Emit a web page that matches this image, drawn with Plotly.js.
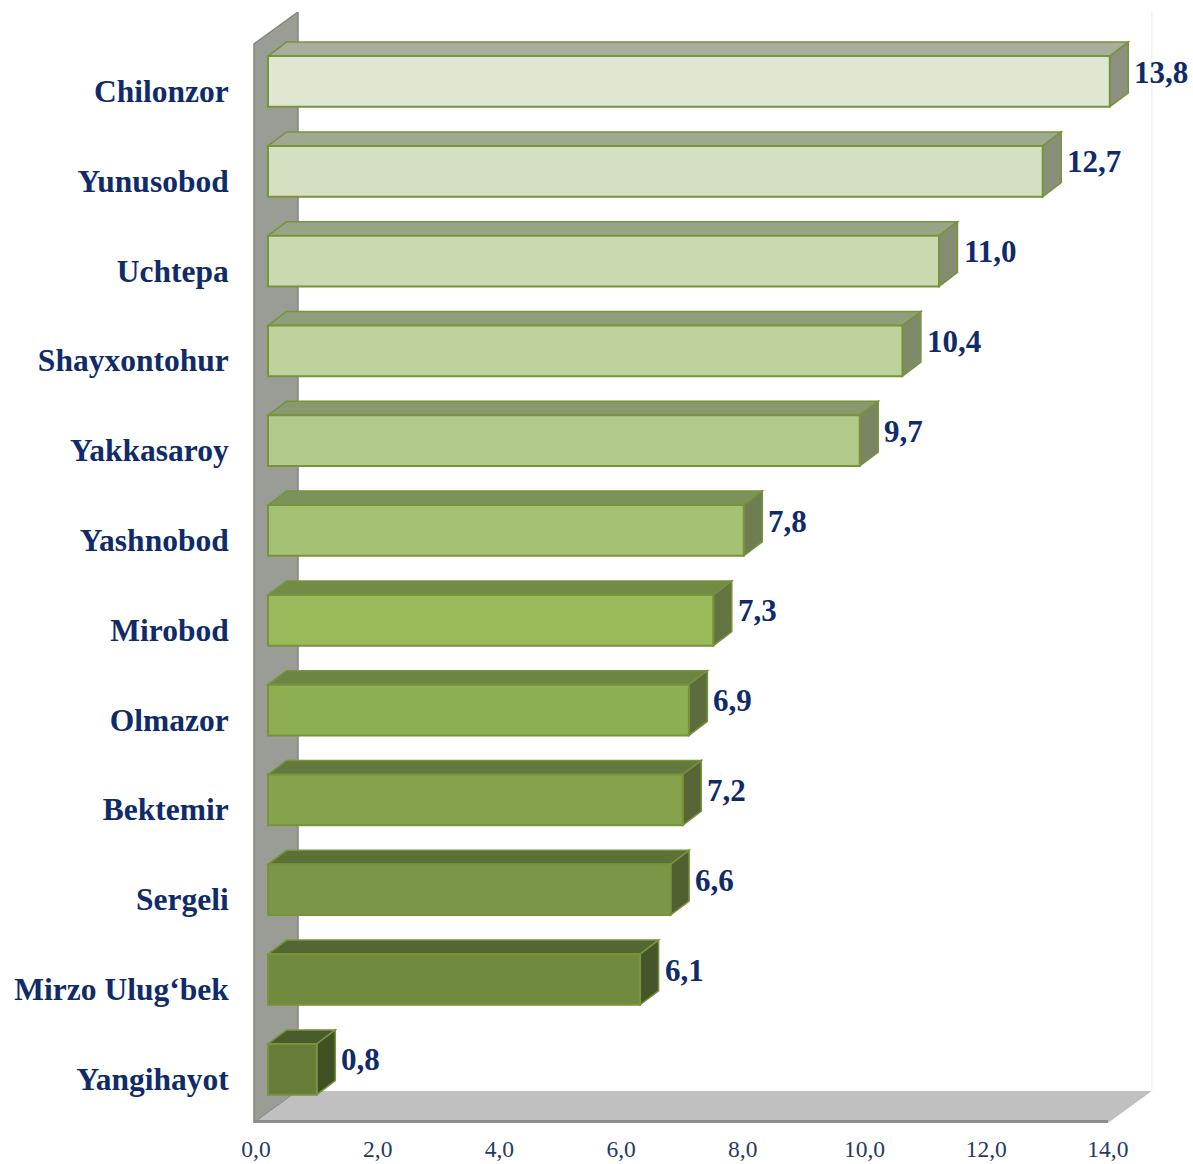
<!DOCTYPE html>
<html>
<head>
<meta charset="utf-8">
<script src="https://cdn.plot.ly/plotly-3.0.1.min.js"></script>
<style>
  html, body { margin: 0; padding: 0; background: #ffffff; }
  #chart { width: 1193px; height: 1164px; }
</style>
</head>
<body>
<div id="chart"></div>
<script>
// ---- data ----
const categories = ["Chilonzor", "Yunusobod", "Uchtepa", "Shayxontohur", "Yakkasaroy", "Yashnobod",
                    "Mirobod", "Olmazor", "Bektemir", "Sergeli", "Mirzo Ulug‘bek", "Yangihayot"];
// bar lengths as drawn in the picture (Bektemir's bar is drawn at ~6.8 although labelled 7,2)
const values = [13.8, 12.7, 11.0, 10.4, 9.7, 7.8, 7.3, 6.9, 6.8, 6.6, 6.1, 0.8];
const valueLabels = ["13,8", "12,7", "11,0", "10,4", "9,7", "7,8", "7,3", "6,9", "7,2", "6,6", "6,1", "0,8"];
const xTickValues = [0, 2, 4, 6, 8, 10, 12, 14];
const xTickLabels = ["0,0", "2,0", "4,0", "6,0", "8,0", "10,0", "12,0", "14,0"];

// ---- styles ----
const frontColors = ["#dfe7d3", "#d4e0c0", "#cad9b0", "#bed39c", "#b2cb8b", "#a4c174",
                     "#99b95a", "#8eae52", "#86a24c", "#7b9646", "#708a3f", "#667d3a"];
const topColors   = ["#a7ae9b", "#9fa890", "#98a486", "#8f9f79", "#889a6d", "#7b935a",
                     "#728c45", "#6d8543", "#64793d", "#5c7038", "#536733", "#4a5c2c"];
const sideColors  = ["#8d917f", "#89907a", "#848d72", "#7f8a69", "#7a8562", "#6e7d52",
                     "#627440", "#5d6c3c", "#576537", "#4f6130", "#46562a", "#3f5022"];
const outline = "#77933c";
const navy = "#0f2b69";
const serif = "Liberation Serif, Times New Roman, serif";

// ---- geometry (pixels) ----
const W = 1193, H = 1164;
const plotL = 250, plotR = W, plotT = 12, plotB = 1123;
const bar0px = 268, barPxPerUnit = 61;      // bar plane
const tick0px = 256, tickPxPerUnit = 60.85; // floor front plane
const catPx = 89.8, cat0px = 91;
const barW = 0.565, barShift = -0.106;       // in category units
const barDx = 18.5, barDy = 14;              // bar depth in px
const depthDx = 44, depthDy = 32;            // wall/floor depth in px

const xRange = [(plotL - bar0px) / barPxPerUnit, (plotR - bar0px) / barPxPerUnit];
const x2Range = [(plotL - tick0px) / tickPxPerUnit, (plotR - tick0px) / tickPxPerUnit];
const yTopVal = -(cat0px - plotT) / catPx;
const yBotVal = (categories.length - 1) + (plotB - (cat0px + catPx * (categories.length - 1))) / catPx;

const idx = categories.map((c, i) => i);
const offset = barShift - barW / 2;

const shapes = [];
// wall and floor (x2 = floor front plane)
const dxU2 = depthDx / tickPxPerUnit, dyU = depthDy / catPx;
const wallX = -2 / tickPxPerUnit;
const floorEnd = xTickValues[xTickValues.length - 1];
shapes.push({
  type: "path", xref: "x2", yref: "y", layer: "below",
  path: `M ${wallX},${yBotVal} L ${wallX},${yTopVal + dyU} L ${wallX + dxU2},${yTopVal} L ${wallX + dxU2},${yBotVal - dyU} Z`,
  fillcolor: "#9a9c96", line: { color: "#85877f", width: 1.5 }
});
shapes.push({
  type: "line", xref: "x2", yref: "y", layer: "below",
  x0: floorEnd + dxU2, x1: floorEnd + dxU2, y0: yTopVal - 1, y1: yBotVal - dyU,
  line: { color: "#ececec", width: 1 }
});
shapes.push({
  type: "path", xref: "x2", yref: "y", layer: "below",
  path: `M ${wallX},${yBotVal} L ${floorEnd},${yBotVal} L ${floorEnd + dxU2},${yBotVal - dyU} L ${wallX + dxU2},${yBotVal - dyU} Z`,
  fillcolor: "#c0c0c0", line: { width: 0 }
});
shapes.push({
  type: "line", xref: "x2", yref: "y", layer: "below",
  x0: wallX, x1: floorEnd, y0: yBotVal - 1.5 / catPx, y1: yBotVal - 1.5 / catPx,
  line: { color: "#8c8c8c", width: 3 }
});

// 3D faces of bars
const bdx = barDx / barPxPerUnit, bdy = barDy / catPx;
values.forEach((v, i) => {
  const yT = i + offset, yB = yT + barW;
  shapes.push({
    type: "path", xref: "x", yref: "y", layer: "below",
    path: `M 0,${yT} L ${bdx},${yT - bdy} L ${v + bdx},${yT - bdy} L ${v},${yT} Z`,
    fillcolor: topColors[i], line: { color: outline, width: 1.5 }
  });
  shapes.push({
    type: "path", xref: "x", yref: "y", layer: "below",
    path: `M ${v},${yT} L ${v + bdx},${yT - bdy} L ${v + bdx},${yB - bdy} L ${v},${yB} Z`,
    fillcolor: sideColors[i], line: { color: outline, width: 1.5 }
  });
});

const annotations = values.map((v, i) => ({
  x: v, y: i, xref: "x", yref: "y",
  text: valueLabels[i], showarrow: false,
  xanchor: "left", yanchor: "middle",
  xshift: barDx + 4, yshift: 19,
  font: { family: serif, size: 31, color: navy, weight: "bold" }
}));

const traces = [
  {
    type: "bar", orientation: "h",
    x: values, y: idx,
    width: barW, offset: offset,
    marker: { color: frontColors, line: { color: outline, width: 2 } },
    hoverinfo: "x+y", showlegend: false,
    xaxis: "x", yaxis: "y"
  },
  {
    type: "scatter", mode: "lines",
    x: xTickValues, y: xTickValues.map(() => null),
    xaxis: "x2", yaxis: "y", hoverinfo: "skip", showlegend: false
  }
];

const layout = {
  width: W, height: H,
  margin: { l: plotL, r: W - plotR, t: plotT, b: H - plotB, pad: 0 },
  paper_bgcolor: "#ffffff", plot_bgcolor: "rgba(0,0,0,0)",
  showlegend: false,
  xaxis: {
    range: xRange, showticklabels: false, showgrid: false, zeroline: false,
    showline: false, ticks: "", fixedrange: true
  },
  xaxis2: {
    overlaying: "x", anchor: "y", side: "bottom",
    range: x2Range, tickmode: "array", tickvals: xTickValues, ticktext: xTickLabels,
    ticks: "outside", ticklen: 5, tickcolor: "rgba(0,0,0,0)",
    showgrid: false, zeroline: false, showline: false,
    tickfont: { family: serif, size: 23.5, color: "#1f3b64" }
  },
  yaxis: {
    range: [yBotVal, yTopVal], tickmode: "array", tickvals: idx, ticktext: categories,
    ticks: "outside", ticklen: 14, tickcolor: "rgba(0,0,0,0)",
    showgrid: false, zeroline: false, showline: false,
    tickfont: { family: serif, size: 31.5, color: navy, weight: "bold" }
  },
  shapes: shapes,
  annotations: annotations
};

Plotly.newPlot("chart", traces, layout, { displayModeBar: false, staticPlot: true });
</script>
</body>
</html>
